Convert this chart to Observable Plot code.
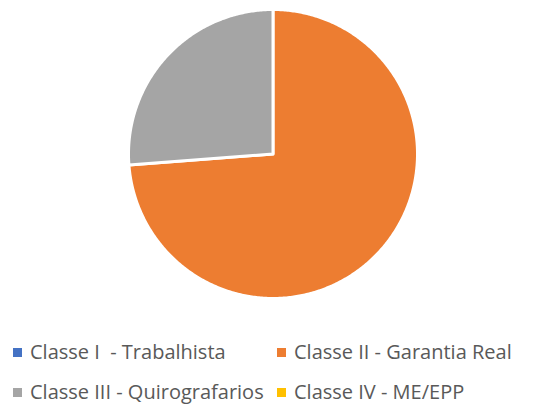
<!DOCTYPE html>
<html><head><meta charset="utf-8">
<script src="https://cdn.jsdelivr.net/npm/d3@7"></script>
<script src="https://cdn.jsdelivr.net/npm/@observablehq/plot@0.6"></script>
<style>
body{margin:0;background:#fff;font-family:"Open Sans",Arial,sans-serif;}
#wrap{position:relative;width:533px;height:405px;overflow:hidden;}
#chart{position:absolute;left:0;top:0;}
.item{position:absolute;display:flex;align-items:center;font-size:20px;line-height:24px;color:#595959;white-space:pre;}
.sw{width:9px;height:9px;margin-right:8px;}
</style></head>
<body><div id="wrap"><div id="chart"></div></div>
<script>
const categories = ["Classe I  - Trabalhista","Classe II - Garantia Real","Classe III - Quirografarios","Classe IV - ME/EPP"];
const values = [0, 73.8, 26.2, 0];
const colors = ["#4472C4","#ED7D31","#A5A5A5","#FFC000"];

const arcs = d3.pie().sort(null).startAngle(0).endAngle(2*Math.PI)(values);
const marks = [];
arcs.forEach((a,i)=>{
  if (a.endAngle - a.startAngle <= 0) return;
  const pts = [{x:0,y:0}];
  const n = Math.max(2, Math.ceil((a.endAngle-a.startAngle)/0.01));
  for (let k=0;k<=n;k++){
    const t = a.startAngle + (a.endAngle-a.startAngle)*k/n;
    pts.push({x:Math.sin(t), y:Math.cos(t)});
  }
  pts.push({x:0,y:0});
  marks.push(Plot.line(pts,{x:"x",y:"y",fill:colors[i],stroke:"white",strokeWidth:3,strokeLinejoin:"round",curve:"linear"}));
});

const chart = Plot.plot({
  width:533, height:307,
  marginLeft:128, marginRight:116, marginTop:9, marginBottom:9,
  x:{domain:[-1,1],axis:null},
  y:{domain:[-1,1],axis:null},
  marks
});
document.getElementById("chart").appendChild(chart);

const pos = [[13,352],[277,352],[13,392],[277,392]];
const wrap = document.getElementById("wrap");
categories.forEach((c,i)=>{
  const d = document.createElement("div");
  d.className="item";
  d.style.left = pos[i][0]+"px";
  d.style.top = (pos[i][1]-12)+"px";
  d.innerHTML = `<span class="sw" style="background:${colors[i]}"></span><span></span>`;
  d.lastChild.textContent = c;
  wrap.appendChild(d);
});
</script></body></html>
